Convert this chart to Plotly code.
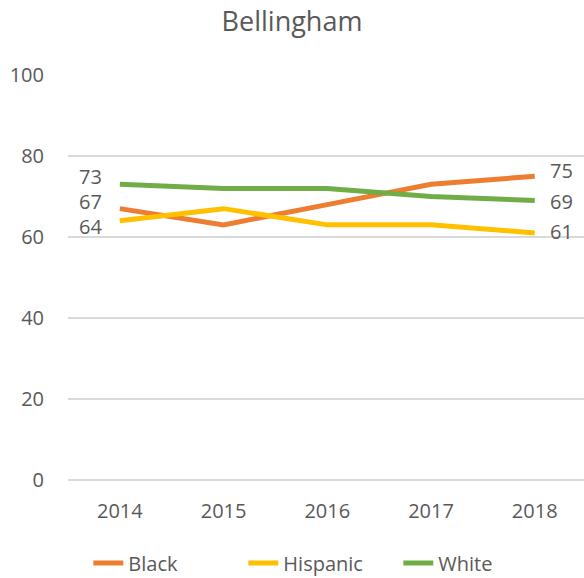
import plotly.graph_objects as go

years = ["2014", "2015", "2016", "2017", "2018"]
black = [67, 63, 68, 73, 75]
hispanic = [64, 67, 63, 63, 61]
white = [73, 72, 72, 70, 69]

series = [
    ("Black", black, "#ED7D31"),
    ("Hispanic", hispanic, "#FFC000"),
    ("White", white, "#70AD47"),
]

# label offsets (px) for the first and last point of each series
label_offsets = {
    "Black": ((-29, 7), (27, 6)),
    "Hispanic": ((-29, -6), (27, 1)),
    "White": ((-29, 8), (27, -1)),
}

FONT = "Open Sans, Noto Sans, sans-serif"
TEXT = "#595959"
GRID = "#D9D9D9"

fig = go.Figure()
for name, vals, color in series:
    fig.add_trace(go.Scatter(
        x=years, y=vals, name=name, mode="lines",
        line=dict(color=color, width=5),
        hoverinfo="skip",
    ))

for name, vals, color in series:
    (lx, ly), (rx, ry) = label_offsets[name]
    fig.add_annotation(x=0, y=vals[0], text=str(vals[0]),
                       xref="x", yref="y", showarrow=False,
                       xshift=lx, yshift=ly,
                       font=dict(size=20, color=TEXT))
    fig.add_annotation(x=len(years) - 1, y=vals[-1], text=str(vals[-1]),
                       xref="x", yref="y", showarrow=False,
                       xshift=rx, yshift=ry,
                       font=dict(size=20, color=TEXT))

fig.update_layout(
    width=584, height=578,
    autosize=False,
    margin=dict(l=68, r=0, t=75, b=98, autoexpand=False),
    paper_bgcolor="white", plot_bgcolor="white",
    font=dict(family=FONT, size=20, color=TEXT),
    title=dict(text="Bellingham", x=0.5, xanchor="center",
               y=1 - 22 / 578, yref="container",
               yanchor="middle", font=dict(family=FONT, size=27, color=TEXT)),
    xaxis=dict(type="category", range=[-0.5, 4.475], showgrid=False,
               showline=False, ticks="outside", ticklen=13,
               tickcolor="rgba(0,0,0,0)", tickangle=0,
               tickfont=dict(size=20, color=TEXT)),
    yaxis=dict(range=[0, 100], dtick=20, showgrid=True, gridcolor=GRID,
               gridwidth=1.5, zeroline=True, zerolinecolor=GRID,
               zerolinewidth=1.5, showline=False, ticks="outside",
               ticklen=19, tickcolor="rgba(0,0,0,0)",
               tickfont=dict(size=20, color=TEXT)),
    legend=dict(orientation="h", x=0.49, xanchor="center",
                y=-0.205, yanchor="middle", entrywidth=110,
                entrywidthmode="pixels",
                font=dict(size=20, color=TEXT)),
    showlegend=True,
)

fig.write_html("out.html")
